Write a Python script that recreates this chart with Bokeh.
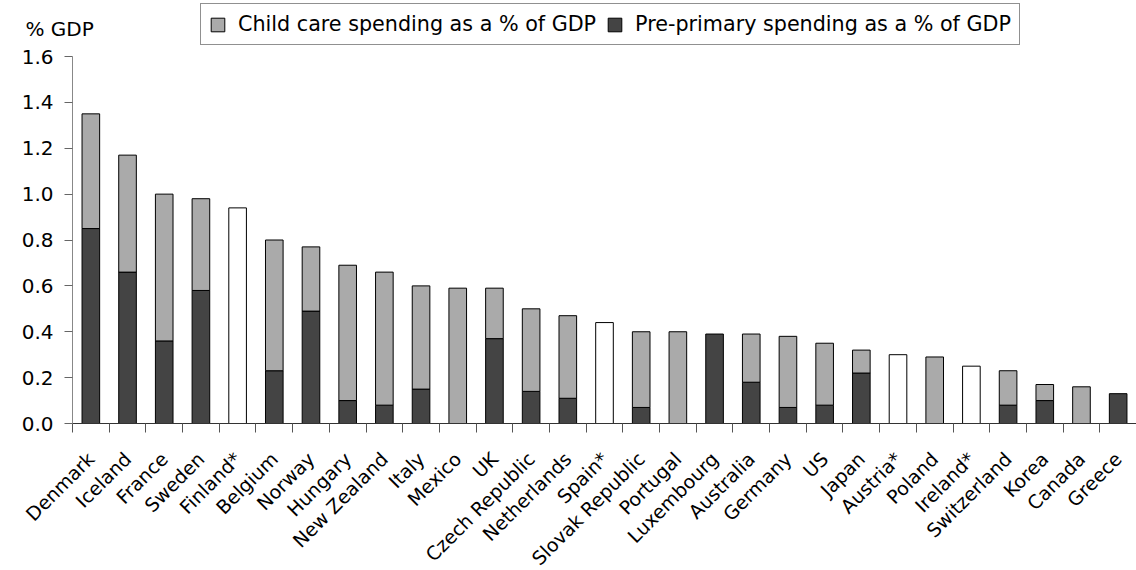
from bokeh.plotting import figure
from bokeh.models import (ColumnDataSource, FixedTicker, Legend, LegendItem, Label,
                          PrintfTickFormatter, Range1d)
from bokeh.embed import file_html
from bokeh.resources import INLINE

# Public spending on child care and pre-primary education, % of GDP
countries = ["Denmark", "Iceland", "France", "Sweden", "Finland*", "Belgium", "Norway",
             "Hungary", "New Zealand", "Italy", "Mexico", "UK", "Czech Republic",
             "Netherlands", "Spain*", "Slovak Republic", "Portugal", "Luxembourg",
             "Australia", "Germany", "US", "Japan", "Austria*", "Poland", "Ireland*",
             "Switzerland", "Korea", "Canada", "Greece"]
preprimary = [0.85, 0.66, 0.36, 0.58, 0.00, 0.23, 0.49, 0.10, 0.08, 0.15, 0.00, 0.37, 0.14,
              0.11, 0.00, 0.07, 0.00, 0.39, 0.18, 0.07, 0.08, 0.22, 0.00, 0.00, 0.00,
              0.08, 0.10, 0.00, 0.13]
childcare = [0.50, 0.51, 0.64, 0.40, 0.00, 0.57, 0.28, 0.59, 0.58, 0.45, 0.59, 0.22, 0.36,
             0.36, 0.00, 0.33, 0.40, 0.00, 0.21, 0.31, 0.27, 0.10, 0.00, 0.29, 0.00,
             0.15, 0.07, 0.16, 0.00]
# countries (*) where only the combined total is available
total_only = [0.00, 0.00, 0.00, 0.00, 0.94, 0.00, 0.00, 0.00, 0.00, 0.00, 0.00, 0.00, 0.00,
              0.00, 0.44, 0.00, 0.00, 0.00, 0.00, 0.00, 0.00, 0.00, 0.30, 0.00, 0.25,
              0.00, 0.00, 0.00, 0.00]
y_ticks = [0.0, 0.2, 0.4, 0.6, 0.8, 1.0, 1.2, 1.4, 1.6]
y_max = 1.6

FONT = "DejaVu Sans"
DARK = "#444444"
LIGHT = "#aaaaaa"

# page geometry (pixels): the data frame fills the whole canvas, and the axes are
# pinned at the plot origin so the labels and legend can sit around the bars
W, H = 1136, 570
AX_LEFT, AX_RIGHT, AX_TOP, AX_ZERO = 72, 1136, 56, 423

n = len(countries)
xs = list(range(1, n + 1))
x_unit = (AX_RIGHT - AX_LEFT) / n
y_unit = (AX_ZERO - AX_TOP) / y_max
x_range = Range1d(0.5 - AX_LEFT / x_unit, n + 0.5 + (W - AX_RIGHT) / x_unit)
y_range = Range1d(-(H - AX_ZERO) / y_unit, y_max + AX_TOP / y_unit)


def segment_source(bottoms, tops):
    keep = [i for i in range(n) if tops[i] > bottoms[i]]
    return ColumnDataSource(dict(x=[xs[i] for i in keep],
                                 bottom=[bottoms[i] for i in keep],
                                 top=[tops[i] for i in keep]))


p = figure(width=W, height=H, output_backend="svg", toolbar_location=None,
           x_range=x_range, y_range=y_range,
           min_border_left=0, min_border_right=0, min_border_top=0, min_border_bottom=0)
p.outline_line_color = None
p.xgrid.visible = False
p.ygrid.visible = False
p.background_fill_color = "white"
p.border_fill_color = "white"

zeros = [0.0] * n
pre_top = preprimary
care_top = [a + b for a, b in zip(preprimary, childcare)]

bw = 0.48
r_pre = p.vbar(x="x", bottom="bottom", top="top", width=bw, source=segment_source(zeros, pre_top),
               fill_color=DARK, line_color="black", line_width=1)
r_care = p.vbar(x="x", bottom="bottom", top="top", width=bw, source=segment_source(pre_top, care_top),
                fill_color=LIGHT, line_color="black", line_width=1)
p.vbar(x="x", bottom="bottom", top="top", width=bw, source=segment_source(zeros, total_only),
       fill_color="white", line_color="black", line_width=1)

# x axis: labels at category centres, tick marks between categories
p.xaxis.fixed_location = 0
p.xaxis.bounds = (0.5, n + 0.5)
p.xaxis.ticker = FixedTicker(ticks=xs, minor_ticks=[x - 0.5 for x in xs] + [n + 0.5])
p.xaxis.major_label_overrides = {x: c for x, c in zip(xs, countries)}
p.xaxis.major_tick_line_color = None
p.xaxis.minor_tick_in = 0
p.xaxis.minor_tick_out = 9
p.xaxis.minor_tick_line_color = "#555555"
p.xaxis.axis_line_color = "#333333"
p.xaxis.major_label_orientation = 0.7854
p.xaxis.major_label_standoff = 23
p.xaxis.major_label_text_font = FONT
p.xaxis.major_label_text_font_size = "19px"
p.xaxis.major_label_text_color = "black"

p.yaxis.fixed_location = 0.5
p.yaxis.bounds = (0, y_max)
p.yaxis.ticker = FixedTicker(ticks=y_ticks)
p.yaxis.formatter = PrintfTickFormatter(format="%.1f")
p.yaxis.major_tick_in = 0
p.yaxis.major_tick_out = 8
p.yaxis.minor_tick_line_color = None
p.yaxis.axis_line_color = "#888888"
p.yaxis.major_tick_line_color = "#666666"
p.yaxis.major_label_standoff = 11
p.yaxis.major_label_text_font = FONT
p.yaxis.major_label_text_font_size = "20px"
p.yaxis.major_label_text_color = "black"

p.add_layout(Label(x=0.5, y=y_max, x_offset=-47, y_offset=28, text="% GDP",
                   text_font=FONT, text_font_size="20px", text_color="black",
                   text_baseline="alphabetic"))

legend = Legend(items=[LegendItem(label="Child care spending as a % of GDP", renderers=[r_care]),
                       LegendItem(label="Pre-primary spending as a % of GDP", renderers=[r_pre])],
                orientation="horizontal", location=(200, H - 45),
                label_text_font=FONT, label_text_font_size="20.7px", label_text_color="black",
                glyph_width=17, glyph_height=17, label_height=20, label_standoff=12,
                spacing=10, padding=8, margin=0,
                border_line_color="#222222", border_line_width=1,
                background_fill_color="white", background_fill_alpha=1.0)
p.add_layout(legend, "center")

open("out.html", "w").write(file_html(p, INLINE))
